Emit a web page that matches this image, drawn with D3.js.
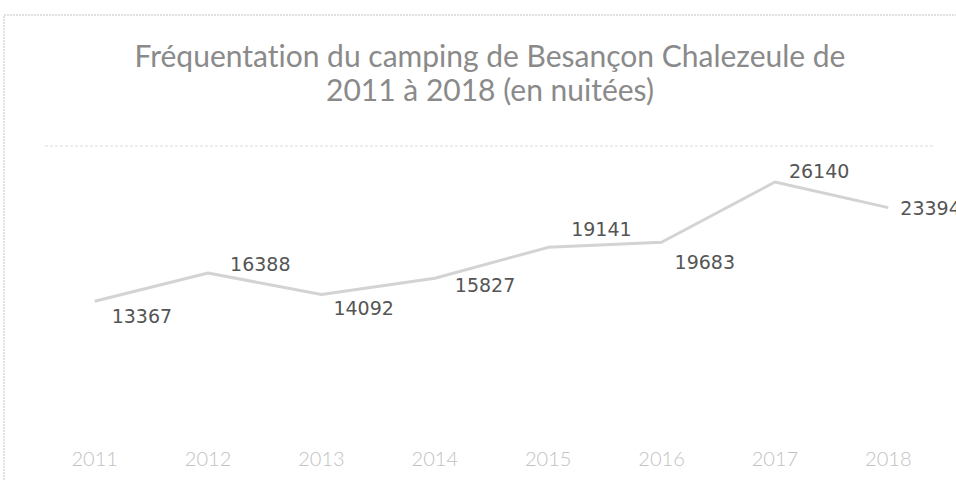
<!DOCTYPE html>
<html>
<meta charset="utf-8">
<head>
<title>camping Besançon Chalezeule</title>
<script src="https://d3js.org/d3.v7.min.js"></script>
<style>
  body { margin: 0; background: #fff; }
</style>
</head>
<body>
<div id="chart"></div>
<script>

// data
var years = ["2011", "2012", "2013", "2014", "2015", "2016", "2017", "2018"];
var nights = [13367, 16388, 14092, 15827, 19141, 19683, 26140, 23394];
var titleLines = ["Fréquentation du camping de Besançon Chalezeule de", "2011 à 2018 (en nuitées)"];

// label nudges (dx, dy) as placed by hand in the original
var labelDx = [17, 22, 12, 20, 23, 13, 14, 12];
var labelDy = [15, -9, 14, 7, -18, 20, -11, 1];

var width = 956, height = 480;
var margin = { top: 146, right: 11, bottom: 54, left: 38 };

var svg = d3.select("#chart").append("svg")
    .attr("width", width)
    .attr("height", height);

// chart frame (scanned, light dotted)
svg.append("path")
    .attr("d", "M4," + height + "V15H" + width)
    .attr("fill", "none")
    .attr("stroke", "#d8d8d8")
    .attr("stroke-width", 1.5)
    .attr("stroke-dasharray", "2,1");

var x = d3.scaleBand()
    .domain(years)
    .range([margin.left, width - margin.right]);

var y = d3.scaleLinear()
    .domain([0, 30000])
    .range([height - margin.bottom, margin.top]);

// faint top gridline
svg.append("g")
    .selectAll("line")
    .data([30000])
    .enter()
    .append("line")
    .attr("x1", 45)
    .attr("x2", 935)
    .attr("y1", function(d){ return y(d); })
    .attr("y2", function(d){ return y(d); })
    .attr("stroke", "#e8e8e8")
    .attr("stroke-width", 1.5)
    .attr("stroke-dasharray", "3,2");

// title
svg.append("text")
    .attr("x", 490)
    .attr("y", 67)
    .attr("text-anchor", "middle")
    .attr("font-family", "Lato, sans-serif")
    .attr("font-size", 30)
    .attr("fill", "#8a8a8a")
    .style("font-variant-ligatures", "none")
    .selectAll("tspan")
    .data(titleLines)
    .enter()
    .append("tspan")
    .attr("x", 490)
    .attr("dy", function(d, i){ return i ? 34 : 0; })
    .text(function(d){ return d; });

// x axis
var xAxis = d3.axisBottom(x).tickSize(0).tickPadding(26);
var gx = svg.append("g")
    .attr("transform", "translate(0," + (height - margin.bottom) + ")")
    .call(xAxis);
gx.select(".domain").remove();
gx.selectAll("text")
    .attr("font-family", "Lato, sans-serif")
    .attr("font-weight", 300)
    .attr("font-size", 20)
    .attr("fill", "#c2c2c2");

var cx = function(i){ return x(years[i]) + x.bandwidth() / 2; };

var line = d3.line()
    .x(function(d, i){ return cx(i); })
    .y(function(d){ return y(d); });

svg.append("path")
    .datum(nights)
    .attr("d", line)
    .attr("fill", "none")
    .attr("stroke", "#d3d3d3")
    .attr("stroke-width", 3)
    .attr("stroke-linejoin", "round");

svg.append("g")
    .selectAll("text")
    .data(nights)
    .enter()
    .append("text")
    .attr("x", function(d, i){ return cx(i) + labelDx[i]; })
    .attr("y", function(d, i){ return y(d) + labelDy[i]; })
    .attr("dy", "0.35em")
    .attr("font-family", "DejaVu Sans, sans-serif")
    .attr("font-size", 19)
    .attr("fill", "#555")
    .text(function(d){ return d; });

</script>
</html>
